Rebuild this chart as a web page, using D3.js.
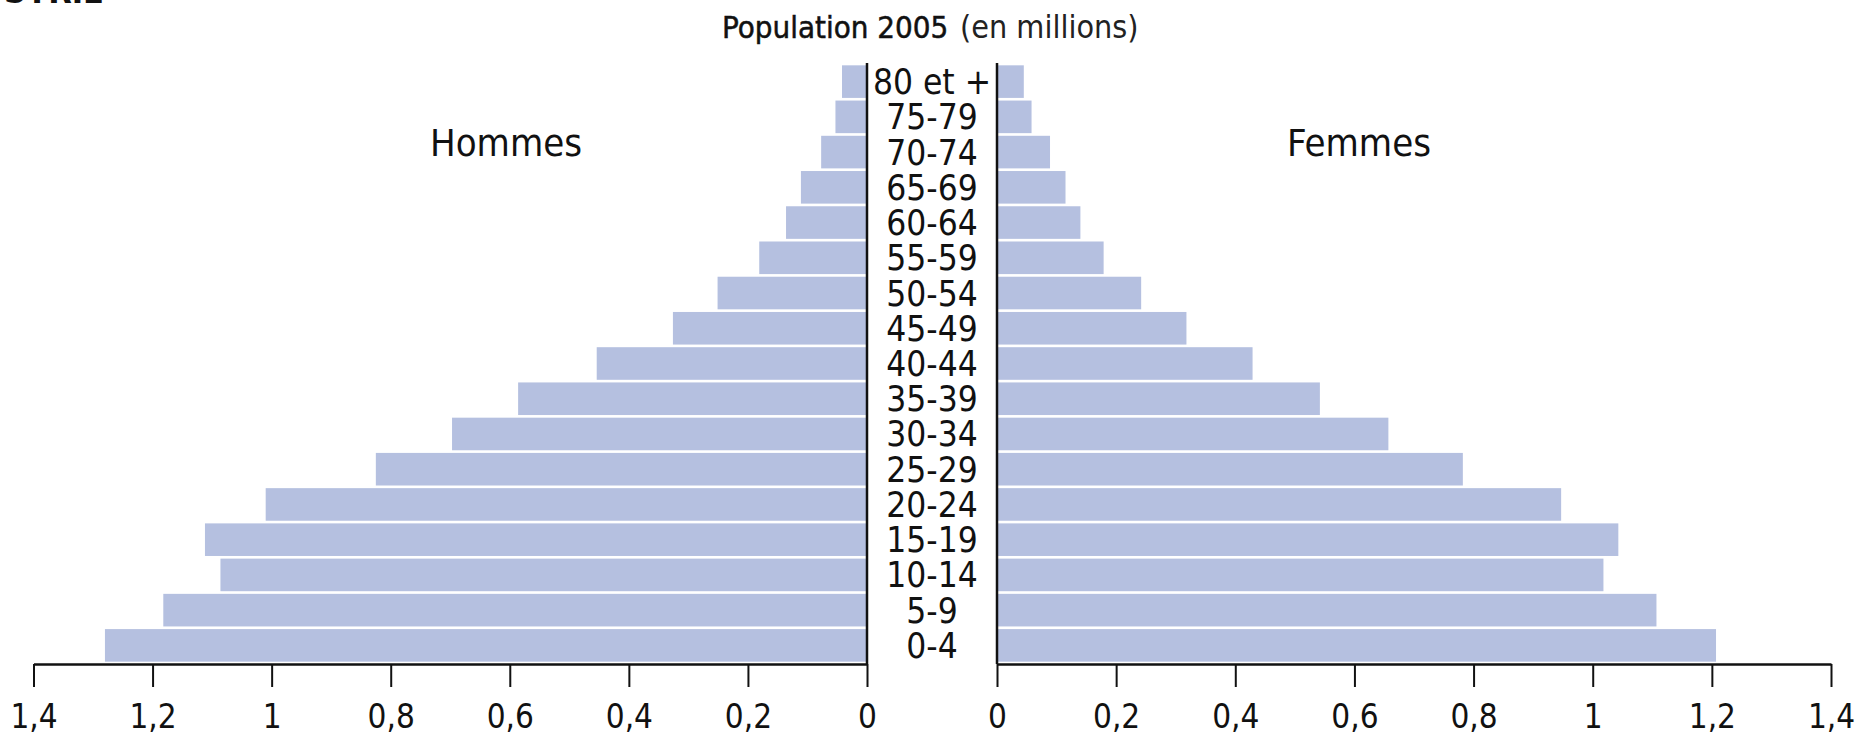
<!DOCTYPE html>
<html>
<head>
<meta charset="utf-8">
<script src="https://cdn.jsdelivr.net/npm/d3@7"></script>
<style>
  html, body { margin: 0; padding: 0; background: #fff; }
  svg { display: block; }
  text { font-family: "DejaVu Sans Condensed", "DejaVu Sans", sans-serif; font-stretch: condensed; fill: #111; }
</style>
</head>
<body>
<svg id="chart" width="1860" height="738"></svg>
<script>
// ---- data (population 2005, millions) ----
const ages = ["0-4","5-9","10-14","15-19","20-24","25-29","30-34","35-39","40-44","45-49","50-54","55-59","60-64","65-69","70-74","75-79","80 et +"];
const hommes = [1.280,1.182,1.086,1.112,1.010,0.825,0.697,0.586,0.454,0.326,0.251,0.181,0.136,0.111,0.077,0.053,0.042];
const femmes = [1.207,1.107,1.018,1.043,0.947,0.782,0.657,0.542,0.429,0.318,0.242,0.179,0.140,0.115,0.089,0.058,0.045];
const tickValues = [0,0.2,0.4,0.6,0.8,1,1.2,1.4];
const titleMain = "Population 2005";
const titleUnit = "(en millions)";
const labelLeft = "Hommes";
const labelRight = "Femmes";
const countryName = "SYRIE";

const svg = d3.select("#chart");
const barColor = "#b5c0e0";

const leftZero = 867, rightZero = 997;
const axisY = 664;
const xL = d3.scaleLinear().domain([0, 1.4]).range([leftZero, 33.5]);
const xR = d3.scaleLinear().domain([0, 1.4]).range([rightZero, 1831]);
const y = d3.scaleBand().domain(ages.slice().reverse()).range([64, 663]).paddingInner(0.075).paddingOuter(0.0375);

const fr = d3.formatLocale({decimal: ",", thousands: " ", grouping: [3], currency: ["", " €"]});
const fmt = fr.format(".1~f");

// cut-off country title at the very top
svg.append("text").attr("x", 4).attr("y", 3)
  .attr("font-size", 34).attr("font-weight", "bold").text(countryName);

// bars
svg.append("g").selectAll("rect").data(ages).join("rect")
  .attr("x", (d, i) => xL(hommes[i]))
  .attr("y", d => y(d))
  .attr("width", (d, i) => leftZero - xL(hommes[i]))
  .attr("height", y.bandwidth())
  .attr("fill", barColor);

svg.append("g").selectAll("rect").data(ages).join("rect")
  .attr("x", rightZero)
  .attr("y", d => y(d))
  .attr("width", (d, i) => xR(femmes[i]) - rightZero)
  .attr("height", y.bandwidth())
  .attr("fill", barColor);

// age labels
svg.append("g").selectAll("text").data(ages).join("text")
  .attr("x", (leftZero + rightZero) / 2)
  .attr("y", d => y(d) + y.bandwidth() / 2 + 12.5)
  .attr("text-anchor", "middle")
  .attr("font-size", 35)
  .text(d => d);

// vertical centre lines
[leftZero, rightZero].forEach(x => {
  svg.append("line").attr("x1", x).attr("x2", x).attr("y1", 63).attr("y2", axisY)
    .attr("stroke", "#111").attr("stroke-width", 2.5);
});

// axes
function styleAxis(g) {
  g.select(".domain").attr("stroke", "#111").attr("stroke-width", 2.5);
  g.selectAll(".tick line").attr("stroke", "#111").attr("stroke-width", 2);
  g.selectAll(".tick text").attr("font-size", 33)
    .attr("font-family", "'DejaVu Sans Condensed', 'DejaVu Sans', sans-serif").attr("fill", "#111");
}
svg.append("g").attr("transform", `translate(0,${axisY})`)
  .call(d3.axisBottom(xL).tickValues(tickValues).tickFormat(fmt).tickSize(23).tickSizeOuter(0).tickPadding(18))
  .call(styleAxis);
svg.append("g").attr("transform", `translate(0,${axisY})`)
  .call(d3.axisBottom(xR).tickValues(tickValues).tickFormat(fmt).tickSize(23).tickSizeOuter(0).tickPadding(18))
  .call(styleAxis);

// title
const t = svg.append("text").attr("y", 38);
t.append("tspan").attr("x", 722).attr("font-size", 31).attr("stroke", "#111").attr("stroke-width", 0.5).text(titleMain);
t.append("tspan").attr("x", 960).attr("font-size", 32).attr("fill", "#222").text(titleUnit);

// side labels
svg.append("text").attr("x", 506).attr("y", 156).attr("text-anchor", "middle")
  .attr("font-size", 38).text(labelLeft);
svg.append("text").attr("x", 1359).attr("y", 156).attr("text-anchor", "middle")
  .attr("font-size", 38).text(labelRight);
</script>
</body>
</html>
